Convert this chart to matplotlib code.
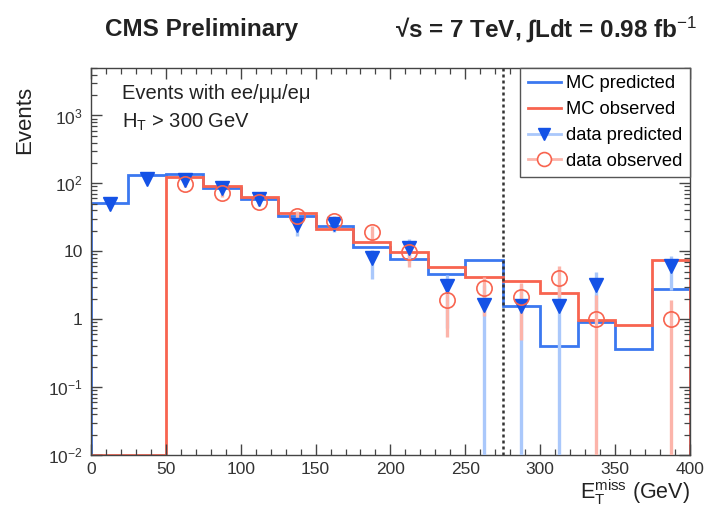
#!/usr/bin/env python3
"""MET distribution, predicted vs observed (CMS style)."""

import numpy as np
import matplotlib
matplotlib.use('Agg')
import matplotlib.pyplot as plt
from matplotlib.lines import Line2D
from matplotlib.ticker import MultipleLocator, FixedLocator, FixedFormatter, NullFormatter

plt.rcParams['font.family'] = ['Liberation Sans', 'DejaVu Sans']
plt.rcParams['mathtext.fontset'] = 'custom'
plt.rcParams['mathtext.rm'] = 'Liberation Sans'
plt.rcParams['mathtext.it'] = 'Liberation Sans:italic'
plt.rcParams['mathtext.bf'] = 'Liberation Sans:bold'

# ------------------------------------------------------------
# data, 25 GeV bins from 0 to 400
# ------------------------------------------------------------
bin_edges = [0, 25, 50, 75, 100, 125, 150, 175, 200, 225, 250, 275, 300, 325, 350, 375, 400]
bin_centers = [12.5, 37.5, 62.5, 87.5, 112.5, 137.5, 162.5, 187.5, 212.5, 237.5,
               262.5, 287.5, 312.5, 337.5, 362.5, 387.5]

mc_predicted = [51, 134, 139, 86, 58, 33.5, 23.5, 11.6, 7.8, 4.7, 7.4, 1.54, 0.40, 0.91, 0.36, 2.8]
mc_observed = [0, 0, 124, 92, 63, 36.6, 21.3, 13.7, 9.8, 5.9, 4.2, 3.66, 2.44, 0.97, 0.83, 7.4]

data_predicted = [50, 117, 111, 85, 58, 24, 25.5, 8.1, 11, 3.05, 1.6, 1.58, 1.55, 3.16, np.nan, 6.0]
data_pred_lo = [7, 11, 11, 9, 8, 7, 6, 4.2, 4, 2.3, 1.6, 1.58, 1.55, 1.9, np.nan, 3.3]
data_pred_hi = [7, 11, 11, 9, 8, 8, 6, 2.5, 4, 1.5, 1.6, 1.6, 1.6, 1.8, np.nan, 2.6]

data_observed = [np.nan, np.nan, 99, 71, 53, 32.7, 27.6, 19.2, 9.8, 1.95, 2.9, 2.1, 4.1, 1.0, np.nan, 1.0]
data_obs_lo = [np.nan, np.nan, 10, 8, 7, 6, 5, 4.4, 4.0, 1.4, 1.8, 1.6, 2.0, 1.0, np.nan, 1.0]
data_obs_hi = [np.nan, np.nan, 10, 8, 7, 6, 5, 4.4, 3.2, 1.4, 1.3, 1.3, 1.9, 1.3, np.nan, 0.9]

y_min, y_max = 1e-2, 5e3
met_cut = 275

blue = '#3b78f0'
red = '#f8644f'
blue_mark = '#1452e6'
blue_err = '#aac8fb'
red_err = '#fcb4aa'

# ------------------------------------------------------------
# plot
# ------------------------------------------------------------
fig = plt.figure(figsize=(7.06, 5.08), dpi=100)
ax = fig.add_axes([0.129, 0.1043, 0.848, 0.7618])

ax.stairs(mc_predicted, bin_edges, color=blue, lw=2)
# empty bins drawn on the lower edge, like ROOT does
ax.stairs(np.maximum(mc_observed, y_min), bin_edges, color=red, lw=2)

ax.errorbar(bin_centers, data_predicted, yerr=[data_pred_lo, data_pred_hi],
            fmt='none', ecolor=blue_err, elinewidth=2.4, capsize=0, zorder=3)
ax.errorbar(bin_centers, data_observed, yerr=[data_obs_lo, data_obs_hi],
            fmt='none', ecolor=red_err, elinewidth=2.4, capsize=0, zorder=3)
ax.plot(bin_centers, data_predicted, 'v', color=blue_mark, ms=9.5, zorder=4)
ax.plot(bin_centers, data_observed, 'o', mfc='none', mec=red, mew=1.2, ms=11, zorder=5)

ax.axvline(met_cut, color='#333333', lw=1.8, ls=(0, (1.2, 1.2)), zorder=2)

ax.set_yscale('log')
ax.set_xlim(0, 400)
ax.set_ylim(y_min, y_max)

decades = [-2, -1, 0, 1, 2, 3]
ax.xaxis.set_major_locator(MultipleLocator(50))
ax.xaxis.set_minor_locator(MultipleLocator(10))
ax.yaxis.set_major_locator(FixedLocator([10.0 ** d for d in decades]))
ax.yaxis.set_major_formatter(FixedFormatter(['$10^{-2}$', '$10^{-1}$', '1', '10', '$10^{2}$', '$10^{3}$']))
ax.yaxis.set_minor_locator(FixedLocator([s * 10.0 ** d for d in decades for s in range(2, 10)]))
ax.yaxis.set_minor_formatter(NullFormatter())
ax.tick_params(which='both', direction='in', top=True, right=True, color='#444444')
ax.tick_params(which='major', length=8, width=1.0, labelsize=12.5, labelcolor='#333333')
ax.tick_params(which='minor', length=4.5, width=0.9)
ax.tick_params(axis='x', pad=5)
ax.tick_params(axis='y', pad=6)
for sp in ax.spines.values():
    sp.set_color('#444444')
    sp.set_linewidth(1.0)

ax.set_xlabel(r'$\mathrm{E}_{\rm T}^{\rm miss}$ (GeV)', fontsize=15.5, loc='right',
              color='#222222', labelpad=0)
ax.set_ylabel('Events', fontsize=16, loc='top', color='#222222')
ax.yaxis.set_label_coords(-0.093, 0.955)

ax.text(0.052, 0.935, 'Events with ee/μμ/eμ', transform=ax.transAxes, fontsize=14.5,
        ha='left', va='center', color='#222222')
ax.text(0.052, 0.86, r'H$_{\rm T}$ > 300 GeV', transform=ax.transAxes, fontsize=14.5,
        ha='left', va='center', color='#222222')

fig.text(0.149, 0.942, 'CMS Preliminary', fontsize=17.5, fontweight='bold',
         ha='left', va='center', color='#222222')
fig.text(0.988, 0.942, '√s = 7 TeV, ∫Ldt = 0.98 fb$^{-1}$', fontsize=17.5, fontweight='bold',
         ha='right', va='center', color='#222222')

handles = [
    Line2D([], [], color=blue, lw=2),
    Line2D([], [], color=red, lw=2),
    Line2D([], [], color=blue_err, lw=2, marker='v', mfc=blue_mark, mec=blue_mark, ms=9),
    Line2D([], [], color=red_err, lw=2, marker='o', mfc='white', mec=red, mew=1.2, ms=10),
]
labels = ['MC predicted', 'MC observed', 'data predicted', 'data observed']
leg = ax.legend(handles, labels, loc='upper right', bbox_to_anchor=(1, 1), borderaxespad=0,
                fontsize=13.2, frameon=True, fancybox=False, framealpha=1, edgecolor='#555555',
                handlelength=1.8, handletextpad=0.3, labelspacing=0.48, borderpad=0.4)
leg.get_frame().set_linewidth(1.0)

plt.savefig('out.png', dpi=100)
plt.close()
print("Saved out.png")
